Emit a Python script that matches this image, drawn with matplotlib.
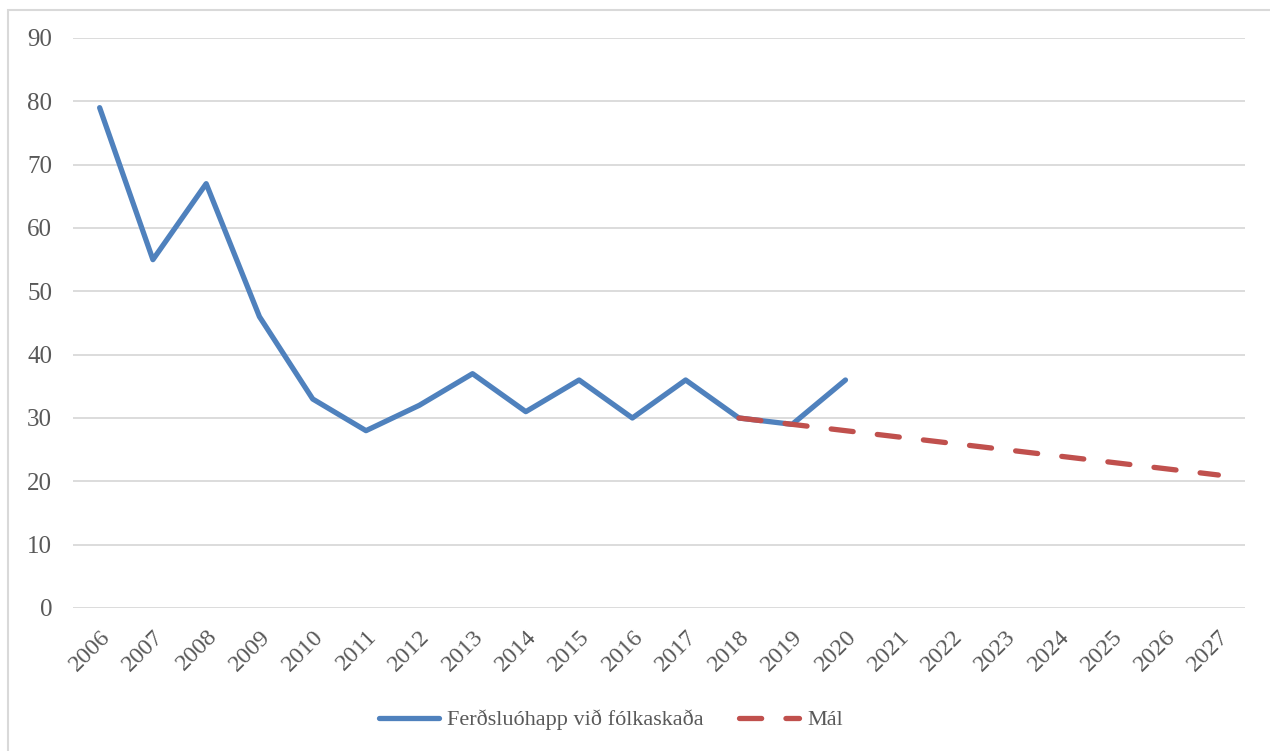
import matplotlib
matplotlib.use("Agg")
import matplotlib.pyplot as plt
from matplotlib.patches import Rectangle

years = [str(y) for y in range(2006, 2028)]
accidents = [79, 55, 67, 46, 33, 28, 32, 37, 31, 36, 30, 36, 30, 29, 36]
target_years = [str(y) for y in range(2018, 2028)]
target = [30, 29, 28, 27, 26, 25, 24, 23, 22, 21]
yticks = list(range(0, 100, 10))

plt.rcParams['font.family'] = ['Liberation Serif', 'DejaVu Serif']

fig = plt.figure(figsize=(12.7, 7.51), dpi=100)
fig.patches.append(Rectangle((8/1270, -0.1), 1.2, 1 - 10/751 + 0.1, transform=fig.transFigure,
                             fill=False, edgecolor='#d9d9d9', linewidth=1.5))
ax = fig.add_axes([73/1270, (751-608)/751, (1245-73)/1270, 570/751])

xpos = {y: i for i, y in enumerate(years)}
ax.plot([xpos[y] for y in years[:len(accidents)]], accidents, color='#4f81bd', lw=3.8,
        solid_capstyle='round', solid_joinstyle='round', label='Ferðsluóhapp við fólkaskaða', zorder=3)
ax.plot([xpos[y] for y in target_years], target, color='#c0504d', lw=3.8,
        dashes=(4.2, 4.6), dash_capstyle='round', label='Mál', zorder=4)

ax.set_xlim(-0.5, len(years) - 0.5)
ax.set_ylim(0, 90)
ax.set_yticks(yticks)
ax.set_xticks(range(len(years)))
ax.set_xticklabels(years, rotation=45, ha='right', rotation_mode='anchor')
ax.grid(axis='y', color='#d9d9d9', lw=1.3)
ax.set_axisbelow(True)
for s in ax.spines.values():
    s.set_visible(False)
ax.tick_params(axis='both', length=0, labelsize=18, colors='#595959')
ax.tick_params(axis='x', labelsize=17.5, pad=13)
ax.tick_params(axis='y', pad=15)

leg = fig.legend(loc='center', bbox_to_anchor=(611/1270, 1 - 720/751), ncol=2, frameon=False,
                 fontsize=16, handlelength=2.7, columnspacing=1.6, handletextpad=0.35)
for t in leg.get_texts():
    t.set_color('#595959')

fig.savefig('out.png', dpi=100)
